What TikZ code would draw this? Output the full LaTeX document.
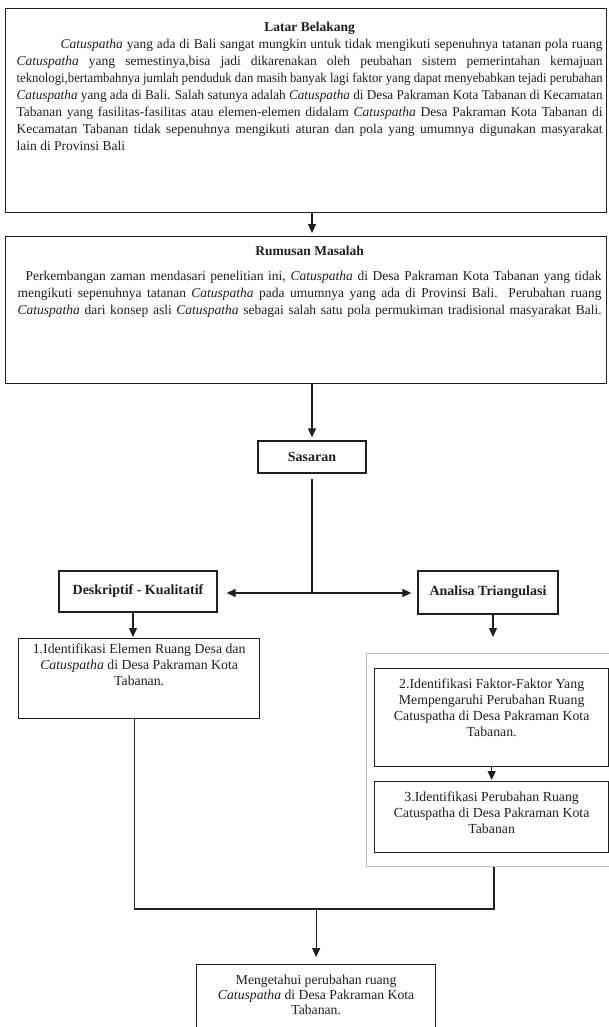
\documentclass[tikz,border=0pt]{standalone}
\usepackage{fontspec}
\setmainfont{Liberation Serif}
\usepackage{graphicx}
\usetikzlibrary{arrows.meta}
\newlength\fitw
\newcommand\fitline[2]{\settowidth\fitw{#2}\ifdim\fitw>#1\relax\resizebox{#1}{\height}{#2}\else\makebox[#1][s]{#2}\fi}
\newcommand\ctp{\textit{Catuspatha}}
\definecolor{ink}{gray}{0.12}
\begin{document}
\begin{tikzpicture}[x=1pt,y=-1pt,
  box/.style={draw=ink, line width=1.3pt, inner sep=0pt, text=ink},
  conn/.style={draw=ink, line width=1.3pt},
  arr/.style={conn, -{Triangle[length=9pt,width=8pt]}},
  lbl/.style={box, font=\fontsize{14}{16}\selectfont\bfseries},
  grpbox/.style={draw=gray!55, line width=1pt, inner sep=0pt}]
\useasboundingbox[fill=white] (0,0) rectangle (609,1027);

\node[box, anchor=north west] (latar) at (5,8) {\parbox[c][204pt][t]{601pt}{\fontsize{13.5}{17}\selectfont\leftskip=11pt\parindent=0pt
\vspace*{13pt}
\makebox[586pt]{\textbf{Latar Belakang}}\par
\hspace*{44pt}\fitline{542pt}{\ctp{} yang ada di Bali sangat mungkin untuk tidak mengikuti sepenuhnya tatanan pola ruang}\par
\fitline{586pt}{\ctp{} yang semestinya,bisa jadi dikarenakan oleh peubahan sistem pemerintahan kemajuan}\par
\fitline{586pt}{teknologi,bertambahnya jumlah penduduk dan masih banyak lagi faktor yang dapat menyebabkan tejadi perubahan}\par
\fitline{586pt}{\ctp{} yang ada di Bali. Salah satunya adalah \ctp{} di Desa Pakraman Kota Tabanan di Kecamatan}\par
\fitline{586pt}{Tabanan yang fasilitas-fasilitas atau elemen-elemen didalam \ctp{} Desa Pakraman Kota Tabanan di}\par
\fitline{586pt}{Kecamatan Tabanan tidak sepenuhnya mengikuti aturan dan pola yang umumnya digunakan masyarakat}\par
lain di Provinsi Bali\par}};

\node[box, anchor=north west] (rumusan) at (5,236) {\parbox[c][147pt][t]{601pt}{\fontsize{13.5}{17}\selectfont\leftskip=12pt\parindent=0pt
\vspace*{9pt}
\makebox[584pt]{\textbf{Rumusan Masalah}}\par
\vspace*{8pt}
\hspace*{8pt}\fitline{576pt}{Perkembangan zaman mendasari penelitian ini, \ctp{} di Desa Pakraman Kota Tabanan yang tidak}\par
\fitline{584pt}{mengikuti sepenuhnya tatanan \ctp{} pada umumnya yang ada di Provinsi Bali. Perubahan ruang}\par
\fitline{584pt}{\ctp{} dari konsep asli \ctp{} sebagai salah satu pola permukiman tradisional masyarakat Bali.}\par}};

\node[lbl, minimum width=108pt, minimum height=32pt] (sas) at (312,457) {Sasaran};
\node[lbl, minimum width=158pt, minimum height=41pt] (desk) at (138,591.5) {Deskriptif - Kualitatif};
\node[lbl, minimum width=140pt, minimum height=43pt] (ana) at (488,592.5) {Analisa Triangulasi};

\node[box, anchor=north west] (box1) at (18,638) {\parbox[c][80pt][t]{241pt}{\fontsize{13.8}{16}\selectfont\centering
\vspace*{5pt}
1.Identifikasi Elemen Ruang Desa dan\\ \ctp{} di Desa Pakraman Kota\\ Tabanan.\par}};

\node[grpbox, anchor=north west, minimum width=246pt, minimum height=213pt] (grp) at (366,653) {};

\node[box, anchor=north west] (box2) at (374,668) {\parbox[c][98pt][t]{234pt}{\fontsize{13.8}{16}\selectfont\centering
\vspace*{10pt}
2.Identifikasi Faktor-Faktor Yang\\ Mempengaruhi Perubahan Ruang\\ Catuspatha di Desa Pakraman Kota\\ Tabanan.\par}};

\node[box, anchor=north west] (box3) at (374,781) {\parbox[c][71pt][t]{234pt}{\fontsize{13.8}{16}\selectfont\centering
\vspace*{10pt}
3.Identifikasi Perubahan Ruang\\ Catuspatha di Desa Pakraman Kota\\ Tabanan\par}};

\node[box, anchor=north west] (final) at (196,964) {\parbox[c][72pt][t]{239pt}{\fontsize{13.7}{15}\selectfont\centering
\vspace*{10pt}
Mengetahui perubahan ruang\\ \ctp{} di Desa Pakraman Kota\\ Tabanan.\par}};

\coordinate (j) at (312,593);
\coordinate (m) at (316,909);

\draw[arr, shorten >=3pt] (latar.south -| sas.north) -- (rumusan.north -| sas.north);
\draw[arr, shorten >=3pt] (rumusan.south -| sas.north) -- (sas.north);
\draw[conn, shorten <=5pt] (sas.south) -- (j);
\draw[arr, shorten >=9pt] (j) -- (j -| desk.east);
\draw[arr, shorten >=6pt] (j) -- (j -| ana.west);
\draw[arr, shorten >=1pt] ([xshift=-5pt]desk.south) -- ([xshift=-5pt]desk.south |- box1.north);
\draw[arr, shorten >=16pt] ([xshift=5pt]ana.south) -- ([xshift=5pt]ana.south |- grp.north);
\draw[arr, shorten >=1pt] (box2.south) -- (box3.north);
\draw[conn] ([xshift=-4.5pt]box1.south) |- ([xshift=4.5pt]grp.south |- m) -- ([xshift=4.5pt]grp.south);
\draw[arr, shorten >=7pt] (final.north |- m) -- (final.north);
\end{tikzpicture}
\end{document}
